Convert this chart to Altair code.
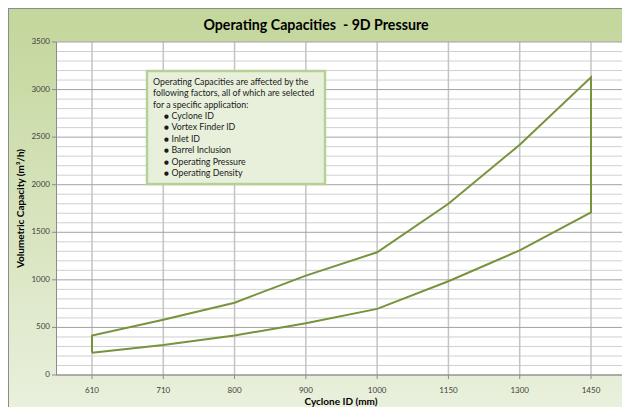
import altair as alt
import pandas as pd

# ---- data ----
cyclone_ids = ["610", "710", "800", "900", "1000", "1150", "1300", "1450"]
upper_capacity = [415, 580, 760, 1045, 1290, 1800, 2420, 3130]
lower_capacity = [235, 315, 415, 545, 695, 985, 1310, 1710]
y_minor_ticks = list(range(0, 3501, 100))
y_major_ticks = [0, 500, 1000, 1500, 2000, 2500, 3000, 3500]
note_intro = ["Operating Capacities are affected by the",
              "following factors, all of which are selected",
              "for a specific application:"]
note_items = ["Cyclone ID", "Vortex Finder ID", "Inlet ID", "Barrel Inclusion",
              "Operating Pressure", "Operating Density"]
chart_title = "Operating Capacities \u00a0- 9D Pressure"
x_title = "Cyclone ID (mm)"
y_title = "Volumetric Capacity (m³/h)"

FONT = "Lato"
W, H = 566, 333
GREEN = "#77933c"
AXIS_GRAY = "#8c8c8c"

# closed outline: lower 610->1450, upper 1450->610, back to lower 610
rows = []
k = 0
for c, v in zip(cyclone_ids, lower_capacity):
    rows.append({"cyclone": c, "value": v, "idx": k}); k += 1
for c, v in zip(reversed(cyclone_ids), list(reversed(upper_capacity))):
    rows.append({"cyclone": c, "value": v, "idx": k}); k += 1
rows.append({"cyclone": cyclone_ids[0], "value": lower_capacity[0], "idx": k})
line_df = pd.DataFrame(rows)

one = pd.DataFrame({"a": [0]})
minor_df = pd.DataFrame({"y": [v for v in y_minor_ticks if v not in y_major_ticks]})
major_df = pd.DataFrame({"y": y_major_ticks, "label": [str(v) for v in y_major_ticks]})
cat_df = pd.DataFrame({"cyclone": cyclone_ids})

xscale = alt.Scale(type="point", domain=cyclone_ids, range=[36, 535], padding=0)
yscale = alt.Scale(domain=[0, 3500], nice=False)
XN = lambda: alt.X("cyclone:N", scale=xscale, sort=cyclone_ids, axis=None)
YQ = lambda f: alt.Y(f, scale=yscale, axis=None)

bg = alt.Chart(one).mark_rect(
    fill=alt.Gradient(gradient="linear",
                      stops=[alt.GradientStop(color="#c3d69b", offset=0),
                             alt.GradientStop(color="#e9f0dc", offset=1)],
                      x1=0, x2=0, y1=0, y2=1)
).encode(x=alt.value(-48), x2=alt.value(W), y=alt.value(-34), y2=alt.value(H + 32))
frame_left = alt.Chart(one).mark_rule(color="#8c8c8c").encode(
    x=alt.value(-47.5), y=alt.value(-34), y2=alt.value(H + 32))
frame_top = alt.Chart(one).mark_rule(color="#8c8c8c").encode(
    x=alt.value(-48), x2=alt.value(W), y=alt.value(-33.5))

plot_bg = alt.Chart(one).mark_rect(fill="white").encode(
    x=alt.value(0), x2=alt.value(W), y=alt.value(0), y2=alt.value(H))

minor = alt.Chart(minor_df).mark_rule(color="#d0d0d0", strokeWidth=1).encode(y=YQ("y:Q"))
vgrid = alt.Chart(cat_df).mark_rule(color="#c4c4c4", strokeWidth=1.5).encode(x=XN())
major = alt.Chart(major_df).mark_rule(color="#a3a3a3", strokeWidth=1).encode(y=YQ("y:Q"))

# axis lines, ticks and labels
y_domain = alt.Chart(one).mark_rule(color=AXIS_GRAY).encode(
    x=alt.value(0.5), y=alt.value(0), y2=alt.value(H))
x_domain = alt.Chart(one).mark_rule(color=AXIS_GRAY).encode(
    x=alt.value(0), x2=alt.value(W), y=alt.value(H))
y_ticks = alt.Chart(major_df).mark_rule(color=AXIS_GRAY).encode(
    y=YQ("y:Q"), x=alt.value(-4), x2=alt.value(0))
x_ticks = alt.Chart(cat_df).mark_rule(color=AXIS_GRAY).encode(
    x=XN(), y=alt.value(H), y2=alt.value(H + 4))
y_labels = alt.Chart(major_df).mark_text(
    align="right", baseline="middle", font=FONT, fontSize=8, color="#404040").encode(
    y=YQ("y:Q"), x=alt.value(-6), text="label:N")
x_labels = alt.Chart(cat_df).mark_text(
    align="center", baseline="middle", font=FONT, fontSize=8, color="#404040").encode(
    x=XN(), y=alt.value(H + 16), text="cyclone:N")

line = alt.Chart(line_df).mark_line(color=GREEN, strokeWidth=2, strokeJoin="miter").encode(
    x=XN(), y=YQ("value:Q"), order=alt.Order("idx:Q"))

x_title_mark = alt.Chart(one).mark_text(
    text=x_title, align="center", baseline="middle", font=FONT, fontSize=10,
    fontWeight="bold", color="#000000").encode(x=alt.value(285), y=alt.value(H + 27))
y_title_mark = alt.Chart(one).mark_text(
    text=y_title, align="center", baseline="middle", font=FONT, fontSize=10,
    fontWeight="bold", color="#000000", angle=270).encode(x=alt.value(-35), y=alt.value(H / 2))
title_mark = alt.Chart(one).mark_text(
    text=chart_title, align="center", baseline="middle", font=FONT, fontSize=14.2,
    fontWeight="bold", color="#000000").encode(x=alt.value(260), y=alt.value(-16))

note_box = alt.Chart(one).mark_rect(fill="#e8f0dc", stroke="#b6d196", strokeWidth=2.5).encode(
    x=alt.value(91), x2=alt.value(269), y=alt.value(29), y2=alt.value(142))
note_text = alt.Chart(one).mark_text(
    text=note_intro, align="left", baseline="alphabetic", font=FONT, fontSize=8.8,
    lineHeight=11.55, color="#1a1a1a").encode(x=alt.value(97), y=alt.value(42.5))
note_bullets = alt.Chart(one).mark_text(
    text=["●"] * len(note_items), align="center", baseline="alphabetic", font="DejaVu Sans",
    fontSize=5.5, lineHeight=11.55, color="#1a1a1a").encode(x=alt.value(110.5), y=alt.value(75.5))
note_list = alt.Chart(one).mark_text(
    text=note_items, align="left", baseline="alphabetic", font=FONT, fontSize=8.8,
    lineHeight=11.55, color="#1a1a1a").encode(x=alt.value(115.5), y=alt.value(76.5))

chart = alt.layer(bg, frame_left, frame_top, plot_bg, minor, vgrid, major, y_domain, x_domain,
                  y_ticks, x_ticks, y_labels, x_labels, line, x_title_mark, y_title_mark,
                  title_mark, note_box, note_text, note_bullets, note_list).properties(
    width=W, height=H,
    autosize=alt.AutoSizeParams(type="none"),
    padding={"left": 48, "top": 34, "right": 0, "bottom": 32},
).configure_view(stroke=None).configure(background="white")

chart.save("out.html", embed_options={"renderer": "svg", "actions": False})
